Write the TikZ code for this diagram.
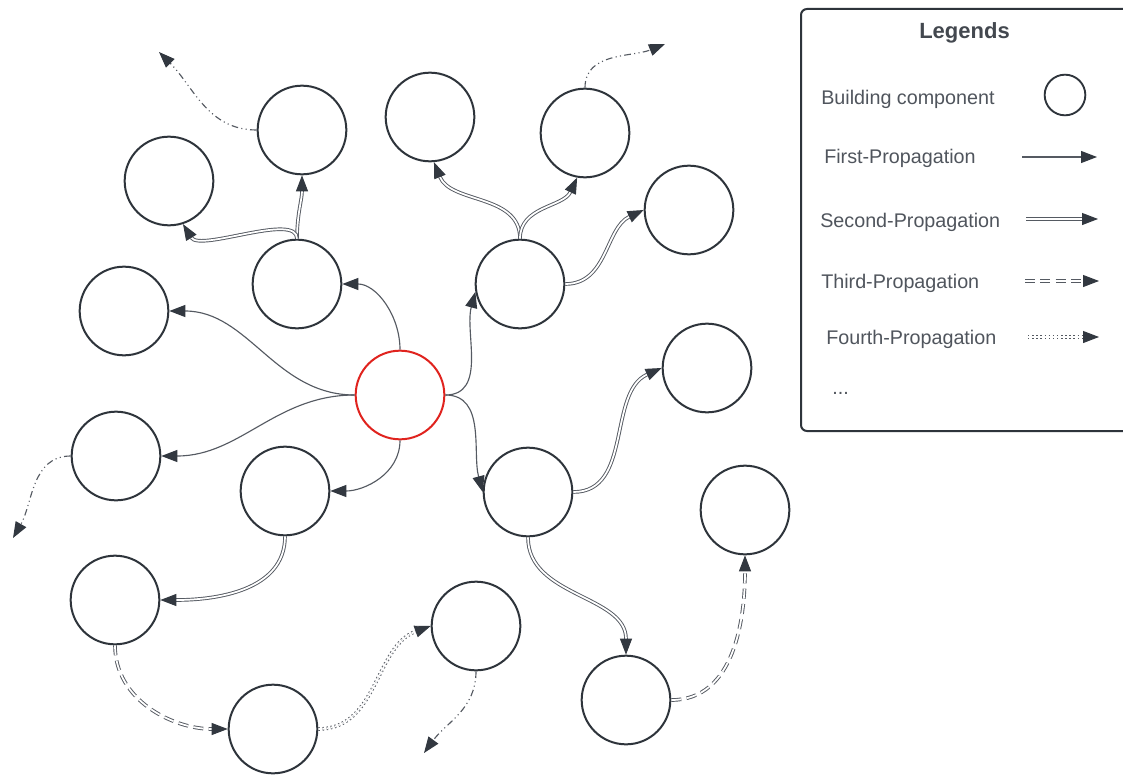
\documentclass[tikz,border=0pt]{standalone}
\usepackage{fontspec}
\setmainfont{Liberation Sans}
\usetikzlibrary{arrows.meta}

\definecolor{ink}{HTML}{2E343B}
\definecolor{edge}{HTML}{555A62}
\definecolor{tipc}{HTML}{323840}
\definecolor{txt}{HTML}{50555D}
\definecolor{hot}{HTML}{E0231E}

\tikzset{
  comp/.style={circle, draw=ink, line width=1.5pt, minimum size=66.5pt, inner sep=0pt},
  hub/.style={comp, draw=hot},
  headtip/.style={-{Triangle[length=12pt,width=9pt,color=tipc]}},
  prop1/.style={draw=edge, line width=0.85pt, headtip},
  prop2/.style={draw=edge, line width=0.7pt, double=white, double distance=1.3pt, headtip},
  prop3/.style={prop2, dash pattern=on 7.5pt off 4pt},
  prop4/.style={prop2, dash pattern=on 1.1pt off 2pt},
  onward/.style={draw=edge, line width=0.85pt, headtip,
    dash pattern=on 5pt off 2.5pt on 0.8pt off 2.5pt on 0.8pt off 2.5pt},
  label/.style={anchor=base west, inner sep=0pt, text=txt},
}

\begin{document}
\begin{tikzpicture}[x=0.75pt, y=-0.75pt, font=\fontsize{14.8}{17.8}\selectfont]
\useasboundingbox (0,0) rectangle (1123,774);
\fill[white] (0,0) rectangle (1123,774);

% building components
\node[hub]  (C)  at (400,395) {};
\node[comp] (A1) at (302,130) {};
\node[comp] (A2) at (169,181) {};
\node[comp] (B1) at (297,284) {};
\node[comp] (L1) at (124,311) {};
\node[comp] (L2) at (116,456) {};
\node[comp] (B2) at (285,491) {};
\node[comp] (L3) at (115,600) {};
\node[comp] (L4) at (273,729) {};
\node[comp] (M1) at (476,626) {};
\node[comp] (T1) at (430,117) {};
\node[comp] (T2) at (585,133) {};
\node[comp] (R1) at (520,284) {};
\node[comp] (R2) at (689,210) {};
\node[comp] (R3) at (707,368) {};
\node[comp] (R4) at (528,492) {};
\node[comp] (R5) at (745,510) {};
\node[comp] (R6) at (626,700) {};

% loose ends of onward propagation
\coordinate (e1) at (159,52);
\coordinate (e2) at (665,44);
\coordinate (e3) at (13,538);
\coordinate (e4) at (424,753);

% first propagation
\draw[prop1] (C.north) to[out=90,in=0] (B1.east);
\draw[prop1] (C.west) to[out=180,in=0] (L1.east);
\draw[prop1] (C.west) to[out=180,in=0] (L2.east);
\draw[prop1] (C.south) to[out=-90,in=0] (B2.east);
\draw[prop1] (C.east) to[out=0,in=-105] (R1.190);
\draw[prop1] (C.east) to[out=0,in=105] (R4.west);

% second propagation
\draw[prop2] (B1.north) to[out=90,in=-90] (A1.south);
\draw[prop2] (B1.north) .. controls (297,212) and (200,252) .. (A2.-72);
\draw[prop2] (R1.north) to[out=90,in=-68] (T1.-85);
\draw[prop2] (R1.north) to[out=90,in=-115] (T2.-100);
\draw[prop2] (R1.east) to[out=0,in=205] (R2.west);
\draw[prop2] (R4.east) to[out=0,in=204] (R3.west);
\draw[prop2] (R4.south) to[out=-90,in=90] (R6.north);
\draw[prop2] (B2.south) to[out=-90,in=0] (L3.east);

% third propagation
\draw[prop3] (L3.south) to[out=-90,in=180] (L4.west);
\draw[prop3] (R6.east) to[out=0,in=-90] (R5.south);

% fourth propagation
\draw[prop4] (L4.east) to[out=0,in=200] (M1.west);

% further propagation
\draw[onward] (A1.west) to[out=180,in=-45] (e1);
\draw[onward] (T2.north) to[out=90,in=202] (e2);
\draw[onward] (L2.west) to[out=180,in=60] (e3);
\draw[onward] (M1.south) to[out=-90,in=54] (e4);

% legend
\draw[draw=ink, line width=1.5pt, rounded corners=4.5pt] (801,9) rectangle (1135,431);
\node[anchor=base, inner sep=0pt, text=ink!90,
      font=\fontsize{16.5}{19.8}\selectfont\bfseries] (lt) at (964.5,39) {Legends};
\node[label] (t0) at (821,104) {Building component};
\node[label] (t1) at (824,163) {First-Propagation};
\node[label] (t2) at (820,227) {Second-Propagation};
\node[label] (t3) at (821,288) {Third-Propagation};
\node[label] (t4) at (826,344) {Fourth-Propagation};
\node[label] (t5) at (832,394) {...};
\node[circle, draw=ink, line width=1.4pt, minimum size=30.5pt, inner sep=0pt] (k0) at (1065,95) {};

\coordinate (k1a) at (1022,157); \coordinate (k1b) at (1097,157);
\coordinate (k2a) at (1026,219); \coordinate (k2b) at (1098,219);
\coordinate (k3a) at (1025,281); \coordinate (k3b) at (1099,281);
\coordinate (k4a) at (1028,337); \coordinate (k4b) at (1099,337);
\draw[prop1] (k1a) -- (k1b);
\draw[prop2] (k2a) -- (k2b);
\draw[prop3] (k3a) -- (k3b);
\draw[prop4] (k4a) -- (k4b);
\end{tikzpicture}
\end{document}
